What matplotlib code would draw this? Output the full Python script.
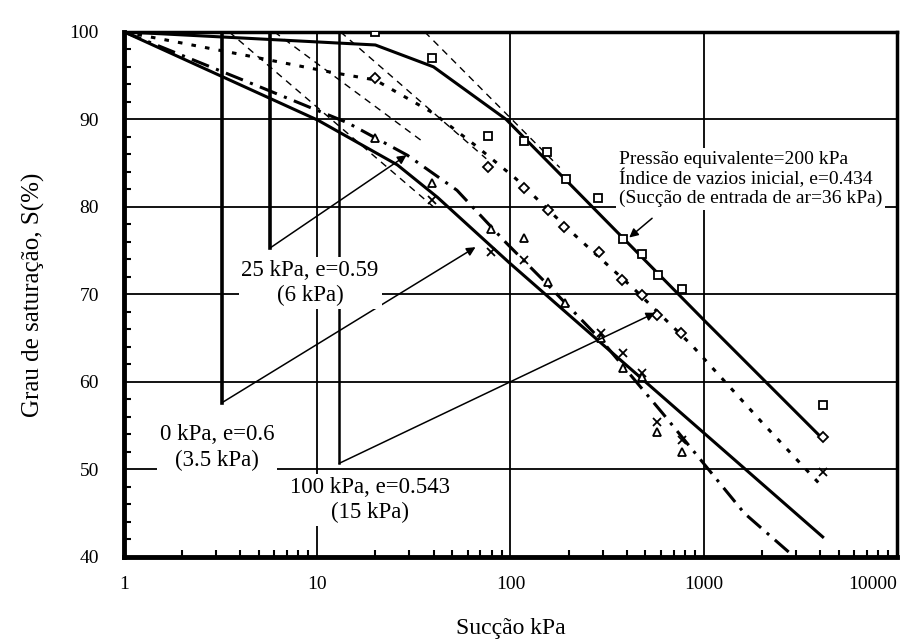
import matplotlib
matplotlib.use("Agg")
import matplotlib.pyplot as plt
from matplotlib.ticker import FixedLocator, LogLocator, MultipleLocator, NullFormatter

plt.rcParams['font.family'] = ['Liberation Serif', 'DejaVu Serif']

# curva A - pressao equivalente 200 kPa (ajuste + pontos quadrados)
succ_a = [1, 20, 40, 95, 1000, 4130]
sat_a = [100, 98.5, 96, 90, 67.1, 53.5]
pts_a_x = [20, 39.4, 77, 117, 155, 194, 283, 384, 481, 581, 771, 4130]
pts_a_y = [100, 97.0, 88.1, 87.5, 86.3, 83.2, 81.0, 76.3, 74.6, 72.2, 70.6, 57.4]

# curva B - 100 kPa (pontilhada, losangos)
succ_b = [1, 4.3, 11.7, 20, 40, 67, 107, 210, 442, 868, 2000, 4040]
sat_b = [100, 97.3, 95.4, 94.5, 90.7, 86.9, 83.2, 77.0, 70.5, 64.2, 55.4, 48.2]
pts_b_x = [20, 77, 117, 156, 189, 286, 380, 480, 575, 764, 4130]
pts_b_y = [94.7, 84.6, 82.2, 79.7, 77.7, 74.9, 71.7, 69.9, 67.7, 65.6, 53.7]

# curva C - 0 kPa (continua)
succ_c = [1, 10.1, 26, 41.9, 98.9, 4130]
sat_c = [100, 89.9, 84.8, 81.1, 73.6, 42.3]

# curva D - 25 kPa (traco-ponto)
succ_d = [1, 5.2, 14.4, 29.3, 52.9, 95, 153, 300, 609, 1624, 2950]
sat_d = [100, 93.6, 89.6, 85.9, 81.9, 75.9, 71.3, 64.6, 56.5, 45.0, 40]

# pontos triangulos e x
tri_x = [20, 39.4, 79, 117, 156, 192, 293, 384, 480, 574, 771]
tri_y = [87.9, 82.7, 77.5, 76.5, 71.4, 69.0, 65.0, 61.6, 60.6, 54.3, 52.0]
cross_x = [39.4, 79, 117, 293, 384, 480, 574, 771, 4130]
cross_y = [80.8, 74.9, 73.9, 65.6, 63.3, 61.0, 55.4, 53.4, 49.7]

# tangentes (entrada de ar)
tan_x = [[3.5, 40], [6, 35], [13.2, 75], [36, 180]]
tan_y = [[100, 80], [100, 87.5], [100, 85.5], [100, 84.5]]

# anotacoes
ann_x = [3.2, 5.7, 13]
ann_bottom = [57.6, 75.3, 50.7]
ann_tip_x = [66, 29, 561]
ann_tip_y = [75.4, 85.9, 67.9]
ann_text = ["0 kPa, e=0.6\n(3.5 kPa)", "25 kPa, e=0.59\n(6 kPa)", "100 kPa, e=0.543\n(15 kPa)"]
ann_text_x = [3.03, 9.2, 18.7]
ann_text_y = [52.5, 71.3, 46.5]

x_ticks = [1, 10, 100, 1000, 10000]
y_ticks = [40, 50, 60, 70, 80, 90, 100]

fig = plt.figure(figsize=(9.18, 6.42), dpi=100)
ax = fig.add_axes([0.135, 0.1324, 0.842, 0.818])
ax.set_xscale('log')
ax.set_xlim(1, 10000)
ax.set_ylim(40, 100)

ax.grid(True, which='major', color='black', lw=1.3)
ax.set_axisbelow(True)

# curvas
ax.plot(succ_a, sat_a, color='black', lw=2.2, zorder=3)
ax.plot(succ_b, sat_b, color='black', lw=2.2, dashes=(1.5, 3), zorder=3)
ax.plot(succ_c, sat_c, color='black', lw=2.2, zorder=3)
ax.plot(succ_d, sat_d, color='black', lw=2.2, dashes=(6, 2.5, 1, 2.5), zorder=3)
for tx, ty in zip(tan_x, tan_y):
    ax.plot(tx, ty, color='black', lw=1.0, dashes=(5, 4), zorder=3)

# pontos
ax.plot(pts_a_x, pts_a_y, 's', ms=6, mfc='white', mec='black', mew=1.3, ls='none', zorder=4)
ax.plot(pts_b_x, pts_b_y, 'D', ms=5, mfc='white', mec='black', mew=1.3, ls='none', zorder=4)
ax.plot(tri_x, tri_y, '^', ms=5.5, mfc='white', mec='black', mew=1.3, ls='none', zorder=4)
ax.plot(cross_x, cross_y, 'x', ms=5.5, color='black', mew=1.3, ls='none', zorder=4)

# linhas verticais + setas + textos
for i in range(3):
    ax.plot([ann_x[i], ann_x[i]], [100, ann_bottom[i]], color='black',
            lw=2.6 if i < 2 else 1.8, zorder=2)
    ax.annotate('', xy=(ann_tip_x[i], ann_tip_y[i]), xytext=(ann_x[i], ann_bottom[i]),
                arrowprops=dict(arrowstyle='-|>', color='black', lw=1.1,
                                mutation_scale=13, shrinkA=0, shrinkB=0), zorder=5)
    ax.text(ann_text_x[i], ann_text_y[i], ann_text[i], ha='center', va='center',
            fontsize=16.5, linespacing=1.25, zorder=6,
            bbox=dict(facecolor='white', edgecolor='none', pad=2))

ax.annotate('', xy=(412, 76.5), xytext=(541, 78.7),
            arrowprops=dict(arrowstyle='-|>', color='black', lw=1.1,
                            mutation_scale=13, shrinkA=0, shrinkB=0), zorder=5)
ax.text(365, 83.2, "Pressão equivalente=200 kPa\nÍndice de vazios inicial, e=0.434\n(Sucção de entrada de ar=36 kPa)",
        ha='left', va='center', fontsize=14, linespacing=1.1, zorder=6,
        bbox=dict(facecolor='white', edgecolor='none', pad=2))

# eixos
ax.xaxis.set_major_locator(FixedLocator(x_ticks))
ax.set_xticklabels([str(v) for v in x_ticks])
ax.xaxis.set_minor_locator(LogLocator(base=10, subs=range(2, 10), numticks=20))
ax.xaxis.set_minor_formatter(NullFormatter())
ax.yaxis.set_major_locator(FixedLocator(y_ticks))
ax.yaxis.set_minor_locator(MultipleLocator(2))
ax.tick_params(which='both', direction='in', labelsize=14, colors='black')
ax.tick_params(which='major', length=0)
ax.tick_params(which='minor', length=5, width=1.5)
ax.tick_params(axis='y', which='major', pad=18)
ax.tick_params(axis='x', which='major', pad=14)
labels = ax.get_xticklabels()
labels[-1].set_horizontalalignment('right')

for sp in ax.spines.values():
    sp.set_linewidth(2.5)
ax.spines['left'].set_linewidth(3.5)
ax.spines['bottom'].set_linewidth(3.5)

ax.set_ylabel("Grau de saturação, S(%)", fontsize=18, labelpad=18)
ax.set_xlabel("Sucção kPa", fontsize=17, labelpad=18)

fig.savefig("out.png", dpi=100, facecolor='white')
